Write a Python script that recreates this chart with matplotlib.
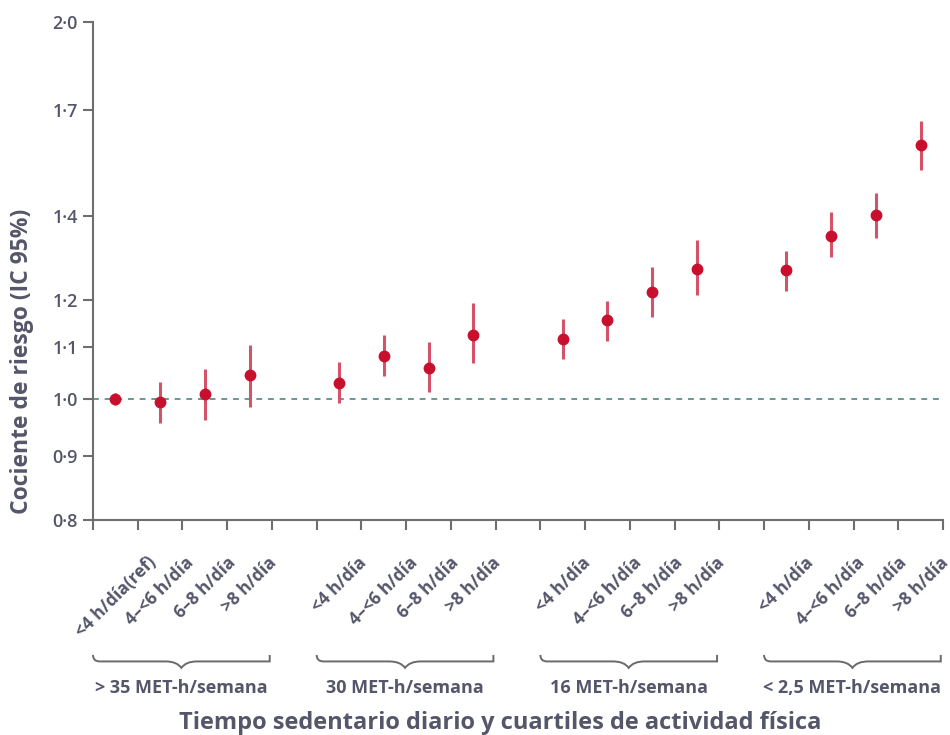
import numpy as np
import matplotlib
matplotlib.use("Agg")
import matplotlib.pyplot as plt
from matplotlib.path import Path
from matplotlib.patches import PathPatch
import matplotlib.transforms as mtransforms

plt.rcParams['font.family'] = ['Open Sans', 'DejaVu Sans']

# datos: cociente de riesgo e IC 95% por grupo
sed_labels = ["<4 h/día(ref)", "4–<6 h/día", "6–8 h/día", ">8 h/día",
              "<4 h/día", "4–<6 h/día", "6–8 h/día", ">8 h/día",
              "<4 h/día", "4–<6 h/día", "6–8 h/día", ">8 h/día",
              "<4 h/día", "4–<6 h/día", "6–8 h/día", ">8 h/día"]
group_labels = ["> 35 MET-h/semana", "30 MET-h/semana", "16 MET-h/semana", "< 2,5 MET-h/semana"]
hr = [1.00, 0.994, 1.009, 1.045,
      1.030, 1.082, 1.059, 1.125,
      1.117, 1.155, 1.218, 1.270,
      1.268, 1.350, 1.403, 1.596]
ci_low = [0.989, 0.957, 0.962, 0.984,
          0.993, 1.043, 1.013, 1.067,
          1.076, 1.113, 1.163, 1.211,
          1.220, 1.297, 1.345, 1.524]
ci_high = [1.011, 1.032, 1.057, 1.103,
           1.070, 1.125, 1.111, 1.193,
           1.157, 1.196, 1.275, 1.338,
           1.313, 1.409, 1.461, 1.668]
y_ticks = [0.8, 0.9, 1.0, 1.1, 1.2, 1.4, 1.7, 2.0]
y_ticklabels = ["0·8", "0·9", "1·0", "1·1", "1·2", "1·4", "1·7", "2·0"]

txt_color = "#55566a"
axis_color = "#6e6e6e"
red = "#c8102e"

# posiciones: 4 puntos por grupo, hueco de una unidad entre grupos
xpos = np.array([g * 5 + i + 0.5 for g in range(4) for i in range(4)])
hr = np.array(hr)
yerr = np.array([hr - np.array(ci_low), np.array(ci_high) - hr])

fig = plt.figure(figsize=(9.5, 7.35), dpi=100)
ax = fig.add_axes([93 / 950, 1 - 520 / 735, 850 / 950, 498 / 735])

ax.set_yscale('log')
ax.set_ylim(0.8, 2.0)
ax.set_xlim(0, 19)

ax.axhline(1.0, color="#6a9797", linestyle=(0, (3, 3)), linewidth=1.4, zorder=1)
ax.errorbar(xpos, hr, yerr=yerr, fmt='none', ecolor="#d4526a", elinewidth=2.2, zorder=2)
ax.plot(xpos, hr, 'o', color=red, markersize=7.5, zorder=3)

ax.set_yticks(y_ticks)
ax.set_yticklabels(y_ticklabels)
ax.yaxis.set_minor_locator(matplotlib.ticker.NullLocator())
ax.tick_params(axis='y', length=7, width=1.5, color=axis_color, labelsize=13,
               labelcolor=txt_color, pad=4)
for lab in ax.get_yticklabels():
    lab.set_fontweight('semibold')

ax.set_xticks(np.arange(0, 20))
ax.set_xticklabels([])
ax.tick_params(axis='x', which='major', length=7, width=1.5, color=axis_color)
ax.set_xticks(xpos, minor=True)
ax.set_xticklabels(sed_labels, minor=True, rotation=45, ha='center', va='top',
                   fontsize=12.5, fontweight='bold', color=txt_color)
ax.tick_params(axis='x', which='minor', length=0, pad=24)

for side in ['top', 'right']:
    ax.spines[side].set_visible(False)
for side in ['left', 'bottom']:
    ax.spines[side].set_color(axis_color)
    ax.spines[side].set_linewidth(1.5)

# llaves bajo cada grupo
trans = mtransforms.blended_transform_factory(ax.transData, ax.transAxes)
y_top, y_line, y_tip = -0.271, -0.284, -0.297
for g, name in enumerate(group_labels):
    x0, x1 = g * 5, g * 5 + 3.95
    xm = (x0 + x1) / 2
    verts = [(x0, y_top), (x0, y_line), (x0 + 0.15, y_line), (x0 + 0.3, y_line),
             (xm - 0.35, y_line), (xm - 0.1, y_line), (xm, y_tip),
             (xm + 0.1, y_line), (xm + 0.35, y_line), (x1 - 0.3, y_line),
             (x1 - 0.15, y_line), (x1, y_line), (x1, y_top)]
    codes = [Path.MOVETO, Path.CURVE3, Path.CURVE3, Path.LINETO,
             Path.LINETO, Path.CURVE3, Path.CURVE3,
             Path.CURVE3, Path.CURVE3, Path.LINETO,
             Path.CURVE3, Path.CURVE3, Path.LINETO]
    ax.add_patch(PathPatch(Path(verts, codes), transform=trans, fill=False,
                           edgecolor="#6a6a6a", linewidth=1.4, clip_on=False))
    ax.text(xm, -0.337, name, transform=trans, ha='center', va='center',
            fontsize=13, fontweight='bold', color=txt_color, clip_on=False)

fig.text(500 / 950, 1 - 723 / 735, "Tiempo sedentario diario y cuartiles de actividad física",
         ha='center', va='center', fontsize=17, fontweight='bold', color=txt_color)
fig.text(22 / 950, 1 - 361 / 735, "Cociente de riesgo (IC 95%)", rotation=90,
         ha='center', va='center', fontsize=16.5, fontweight='bold', color=txt_color)

fig.savefig("out.png", dpi=100)
